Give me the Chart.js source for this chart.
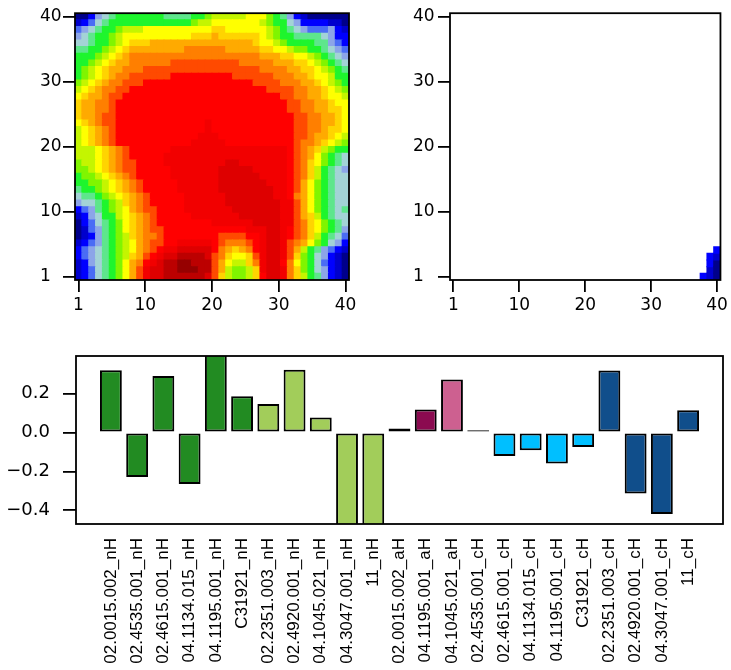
<!DOCTYPE html>
<html>
<head>
<meta charset="utf-8">
<script src="https://cdn.jsdelivr.net/npm/chart.js@4"></script>
<style>
  body { margin: 0; background: #fff; }
  .panel { position: absolute; }
</style>
</head>
<body>
<div class="panel" style="left:0;top:0;width:365px;height:320px"><canvas id="map1"></canvas></div>
<div class="panel" style="left:365px;top:0;width:366px;height:320px"><canvas id="map2"></canvas></div>
<div class="panel" style="left:0;top:330px;width:731px;height:340px"><canvas id="bars"></canvas></div>
<script>
// heatmap 1: one level code per cell, first string is the top row (y = 40), columns 1..40
const map1Rows = [
  '0024567777777666677899999AAA876421000000',
  '12356777777777777899AAAAAAA9877542222110',
  '3456778999AAAAAAAAAABBAAAAAA987654333421',
  '4567789AAAAAAAAAABBBCBBBBBBA987766665422',
  '5567789ABBBCCCCCCCCCCCCCCCBAA98777766432',
  '667789ABCCCCCCCCDDDDDDCCCCCBBAA988776543',
  '77789ABCDDDDDDDDDDDDDDDDDDDCCCBBAA987654',
  '7789ABCCDDDDDDEEEEEEEEEEDDDDDCCCBBA98765',
  '789ABCCDDDEEEEEEEEEEEEEEEEEDDDDCCBBA9876',
  '789ABCDDEEEEEEFFFFFFFFFEEEEEEDDDCCBAA977',
  '89ABCDDEEEFFFFFFFFFFFFFFFFEEEEDDDCCBA987',
  '9ABCDDEEFFFFFFFFFFFFFFFFFFFFEEEEDDCCBA98',
  'ABCCDEEFFFFFFFFFFFFFFFFFFFFFFFEEDDCCBAA9',
  'BCCDDEFFFFFFFFFFFFFFFFFFFFFFFFFEEDDCCBAA',
  'BCCDDEFFFFFFFFFFFFFFFFFFFFFFFFFEEDDCCBBA',
  'BCCDEEFFFFFFFFFFFFFFFFFFFFFFFFFFEEDDCCBA',
  'ABCDEEFFFFFFFFFFFFFGFFFFFFFFFFFFEEDDCCBA',
  '9ABCDEFFFFFFFFFFFFFGFFFFFFFFFFFFEEDDCBBA',
  '9ABCDEFFFFFFFFFFFFGGGFFFFFFFFFFFEEDCCBA9',
  '9ABCDEFFFFFFFFFFFGGGGGFFFFFFFFFFEDDCBA98',
  '999ABCDEFFFFFFGGGGGGGGGGGGGGGGGFEDCB9877',
  '999ABCDEFFFFFGGGGGGGGGGGGGGGGGGFEDCA8765',
  '899ABCDEEFFFFGGGGGGGGGHHGGGGGGGFEDBA8765',
  '889ABCDEEFFFFFGGGGGGGHHHHHGGGGGFEDB97654',
  '7889ABCDEFFFFFGGGGGGGHHHHHHGGGGFEDB97655',
  '77889ABCDEFFFFFGGGGGGHHHHHHHGGGFECA87655',
  '67789ABCDEFFFFFGGGGGGHHHHHHHHGGFECA87655',
  '566789ABCDEFFFFFGGGGGGHHHHHHHGGFDCA87655',
  '4556789BCDEFFFFFGGGGGGHHHHHHHHGGECA87655',
  '2346789ACDEEFFFFGGGGGGGHHHHHHHGGECA87656',
  '1245779ABCDEFFFFFGGGGGGGHHHHHHGGECB97655',
  '0235678ABCDEFFFFFFFFGGGGGGHHHHGGEDBA8765',
  '0134678ABCDEEFFFFFFFFFFFFGGGHHGFEDBA8764',
  '01246789BCDDEFFFFFFFFEEEEFFGHHGFEDB97653',
  '12346789ACDEEFFGGGGGFEDDDEFGHHGEDCA87542',
  '23456789ACDEFGGHHHHHFDCBCDFGHHGEC9764321',
  '23456789BCEFGHHIIIIHEDBAABEGHHGEB8754210',
  '1245678ACDFGHIIJJIIIECA99BDGHHFDA8753210',
  '1235678ACEGHHIIJJJIIEC9889BGHHGDB8754210',
  '1235678ACEGHHIIIIIIHEB9889BFHHGDB9764210'
];

// heatmap 2: only a handful of filled cells, everything else is empty
const map2Cols = [38, 39, 39, 39, 39, 40, 40, 40, 40, 40];
const map2Ys = [1, 1, 2, 3, 4, 1, 2, 3, 4, 5];
const map2Levels = ['2', '1', '1', '2', '2', '0', '0', '0', '1', '2'];

// level codes from low (blue) to high (dark red)
const levelCodes = '0123456789ABCDEFGHIJ';
const levelColors = [
  '#00008B', '#0000CD', '#0000FF', '#4A6CF5', '#8CA5E8', '#A3D3D6', '#5EE68C',
  '#1EF52D', '#80F500', '#C4F500', '#FFFF00', '#FFD400', '#FFAA00', '#FF7F00',
  '#FF4A00', '#FF0000', '#F20000', '#DE0000', '#BC0000', '#960000'
];
// axis runs 0..40 (cells sit on seq(0, 40, length = 40)), first tick is labelled 1
const gridTickAt = [0, 10, 20, 30, 40];
const gridTickLabels = ['1', '10', '20', '30', '40'];

// bar chart
const barLabels = [
  '02.0015.002_nH', '02.4535.001_nH', '02.4615.001_nH', '04.1134.015_nH', '04.1195.001_nH',
  'C31921_nH', '02.2351.003_nH', '02.4920.001_nH', '04.1045.021_nH', '04.3047.001_nH', '11_nH',
  '02.0015.002_aH', '04.1195.001_aH', '04.1045.021_aH',
  '02.4535.001_cH', '02.4615.001_cH', '04.1134.015_cH', '04.1195.001_cH', 'C31921_cH',
  '02.2351.003_cH', '02.4920.001_cH', '04.3047.001_cH', '11_cH'
];
const barValues = [
  0.32, -0.228, 0.29, -0.265, 0.42, 0.186, 0.147, 0.323, 0.077, -0.52, -0.52,
  0.02, 0.118, 0.272,
  0.012, -0.121, -0.091, -0.159, -0.074, 0.318, -0.313, -0.419, 0.114
];
const barColors = [
  '#228B22', '#228B22', '#228B22', '#228B22', '#228B22', '#228B22',
  '#A2CD5A', '#A2CD5A', '#A2CD5A', '#A2CD5A', '#A2CD5A',
  '#8B0A50', '#8B0A50', '#CD6090',
  '#00BFFF', '#00BFFF', '#00BFFF', '#00BFFF', '#00BFFF',
  '#104E8B', '#104E8B', '#104E8B', '#104E8B'
];
const barTicks = [0.2, 0.0, -0.2, -0.4];

// frame round the plot area
const boxPlugin = {
  id: 'box',
  afterDatasetsDraw(chart) {
    const a = chart.chartArea;
    const ctx = chart.ctx;
    ctx.save();
    ctx.strokeStyle = '#000';
    ctx.lineWidth = 1.8;
    ctx.strokeRect(a.left, a.top, a.right - a.left, a.bottom - a.top);
    ctx.restore();
  }
};

const step = 40 / 39;

function cellsFromRows(rows) {
  const cells = [];
  rows.forEach((row, i) => {
    const yc = (rows.length - 1 - i) * step;
    for (let c = 0; c < row.length; c++) {
      const lv = levelCodes.indexOf(row[c]);
      if (lv >= 0) cells.push({ x: c * step, y: [yc - step / 2, yc + step / 2], v: lv });
    }
  });
  return cells;
}

function cellsFromList(cols, ys, levels) {
  return cols.map((c, i) => {
    const yc = (ys[i] - 1) * step;
    return { x: (c - 1) * step, y: [yc - step / 2, yc + step / 2], v: levelCodes.indexOf(levels[i]) };
  });
}

const tickFont = { family: 'DejaVu Sans', size: 17 };

function heatAxis(extra, tickExtra) {
  return Object.assign({
    type: 'linear',
    min: -step / 2,
    max: 40 + step / 2,
    offset: false,
    afterBuildTicks: s => { s.ticks = gridTickAt.map(v => ({ value: v })); },
    grid: { offset: false, drawOnChartArea: false, tickLength: 12, color: '#000', lineWidth: 1.8 },
    border: { display: false },
    ticks: Object.assign({
      font: tickFont, color: '#000', padding: 3, maxRotation: 0, autoSkip: false,
      callback: (v, i) => gridTickLabels[i]
    }, tickExtra)
  }, extra);
}

function heatmap(id, cells, padLeft, yWidth, padRight) {
  return new Chart(document.getElementById(id), {
    type: 'bar',
    data: {
      datasets: [{
        data: cells,
        backgroundColor: c => (c.raw ? levelColors[c.raw.v] : 'transparent'),
        borderWidth: 0,
        inflateAmount: 0.5,
        barPercentage: 1,
        categoryPercentage: 1
      }]
    },
    options: {
      responsive: true,
      maintainAspectRatio: false,
      animation: false,
      layout: { padding: { left: padLeft, right: padRight, top: 8, bottom: 0 } },
      plugins: { legend: { display: false }, tooltip: { enabled: false } },
      scales: {
        x: heatAxis({ afterFit: s => { s.height = 40; } }, {}),
        y: heatAxis({ afterFit: s => { s.width = yWidth; } }, { crossAlign: 'far' })
      }
    },
    plugins: [boxPlugin]
  });
}

heatmap('map1', cellsFromRows(map1Rows), 40, 35, 16);
heatmap('map2', cellsFromList(map2Cols, map2Ys, map2Levels), 48, 37, 9);

new Chart(document.getElementById('bars'), {
  type: 'bar',
  data: {
    datasets: [{
      data: barValues.map((v, i) => ({ x: 0.7 + 1.2 * i, y: v })),
      backgroundColor: barColors,
      borderColor: '#000',
      borderWidth: 2,
      borderSkipped: false,
      barPercentage: 1 / 1.2,
      categoryPercentage: 1,
      clip: 0
    }]
  },
  options: {
    responsive: true,
    maintainAspectRatio: false,
    animation: false,
    layout: { padding: { left: 0, right: 8, top: 26, bottom: 0 } },
    plugins: { legend: { display: false }, tooltip: { enabled: false } },
    scales: {
      x: {
        type: 'linear',
        min: -0.896,
        max: 28.696,
        offset: false,
        afterBuildTicks: s => { s.ticks = barValues.map((v, i) => ({ value: 0.7 + 1.2 * i })); },
        afterFit: s => { s.height = 146; },
        grid: { display: false, drawTicks: false, offset: false },
        border: { display: false },
        ticks: {
          font: { family: 'Liberation Sans', size: 17 },
          color: '#000',
          padding: 14,
          autoSkip: false,
          minRotation: 90,
          maxRotation: 90,
          callback: (v, i) => barLabels[i]
        }
      },
      y: {
        min: -0.47,
        max: 0.393,
        afterBuildTicks: s => { s.ticks = barTicks.map(v => ({ value: v })); },
        afterFit: s => { s.width = 76; },
        grid: { drawOnChartArea: false, tickLength: 13, color: '#000', lineWidth: 1.8 },
        border: { display: false },
        ticks: {
          font: { family: 'DejaVu Sans', size: 18 },
          color: '#000',
          padding: 13,
          callback: v => (v < 0 ? '\u2212' + Math.abs(v).toFixed(1) : v.toFixed(1))
        }
      }
    }
  },
  plugins: [boxPlugin]
});
</script>
</body>
</html>
